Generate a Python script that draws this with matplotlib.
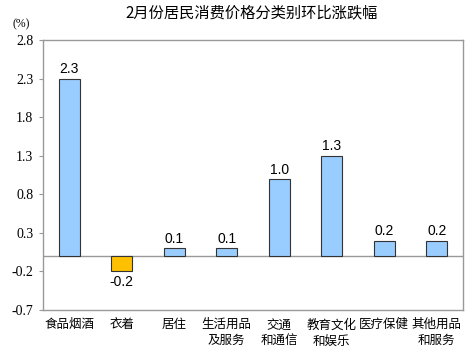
import matplotlib.pyplot as plt

plt.rcParams['font.family'] = ['Noto Sans CJK SC', 'DejaVu Sans']

categories = ['食品烟酒', '衣着', '居住', '生活用品\n及服务', '交通\n和通信',
              '教育文化\n和娱乐', '医疗保健', '其他用品\n和服务']
values = [2.3, -0.2, 0.1, 0.1, 1.0, 1.3, 0.2, 0.2]
yticks = [-0.7, -0.2, 0.3, 0.8, 1.3, 1.8, 2.3, 2.8]

fig = plt.figure(figsize=(4.74, 3.57), dpi=100)
ax = fig.add_axes([0.0907, 0.1317, 0.886, 0.7563])

x = list(range(len(values)))
colors = ['#99CCFF' if v >= 0 else '#FFC000' for v in values]
ax.bar(x, values, width=0.4, color=colors, edgecolor='#333333', linewidth=0.8, zorder=3)

for xi, v in zip(x, values):
    off = 0.03 if v >= 0 else -0.05
    ax.text(xi, v + off, f"{v:.1f}", ha='center', va='bottom' if v >= 0 else 'top',
            fontsize=10, fontfamily='Liberation Sans')

ax.axhline(0, color='#999999', linewidth=1.0, zorder=2)
ax.set_xlim(-0.5, len(values) - 0.5)
ax.set_ylim(-0.7, 2.8)
ax.set_yticks(yticks)
ax.set_yticklabels([f"{t:.1f}" for t in yticks])
for lbl in ax.get_yticklabels():
    lbl.set_fontfamily('Liberation Serif')
    lbl.set_fontsize(10)
ax.set_xticks(x)
ax.set_xticklabels(categories, fontsize=9, linespacing=1.3, va='top')
ax.tick_params(axis='x', length=0, pad=6)
ax.tick_params(axis='y', length=3, color='#999999', pad=4)
for s in ax.spines.values():
    s.set_color('#999999')
    s.set_linewidth(1.0)

fig.text(0.53, 0.963, '2月份居民消费价格分类别环比涨跌幅', ha='center', va='center', fontsize=11)
fig.text(0.027, 0.932, '(%)', ha='left', va='center', fontsize=8.5, fontfamily='Liberation Serif')

fig.savefig('out.png', dpi=100)
